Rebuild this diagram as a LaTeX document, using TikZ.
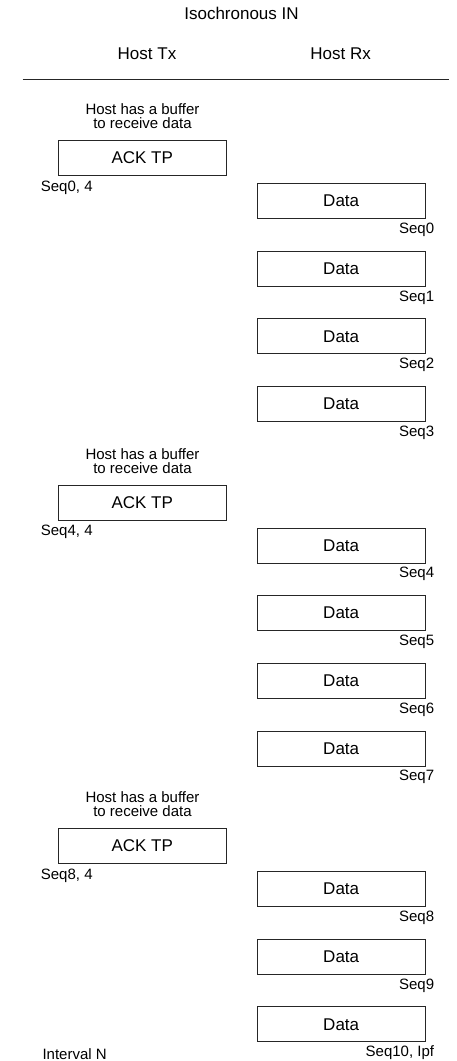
\documentclass[tikz,border=0pt]{standalone}
\usepackage{fontspec}
\setmainfont{Liberation Sans}
\begin{document}
\begin{tikzpicture}[x=1pt,y=-1pt,
  box/.style={draw=black!85, line width=1pt, minimum width=168pt, minimum height=35pt, inner sep=0pt, font=\fontsize{17}{20}\selectfont, anchor=north west},
  big/.style={font=\fontsize{17}{20}\selectfont, inner sep=0pt},
  small/.style={font=\fontsize{15}{18}\selectfont, inner sep=0pt},
  note/.style={font=\fontsize{15}{14}\selectfont, inner sep=0pt, align=center, anchor=south}]
\useasboundingbox (0,0) rectangle (456,1061);
\node[big, anchor=base] (title) at (241.5,19.3) {Isochronous IN};
\node[big, anchor=base] (tx) at (147,59.3) {Host Tx};
\node[big, anchor=base] (rx) at (340.7,59.3) {Host Rx};
\coordinate (l1) at (22.7,79);
\coordinate (l2) at (449,79);
\draw[line width=1pt, black!85] (l1) -- (l2);
% ACK groups
\foreach \k/\a/\s in {0/140/0, 1/484.5/4, 2/828/8}{
  \node[note] (buf\k) at (142.5,\a-11) {Host has a buffer\\to receive data};
  \node[box] (ack\k) at (57.7,\a) {ACK TP};
  \node[small, anchor=base west] (ackseq\k) at (40.7,\a+51) {Seq\s, 4};
}
% Data boxes
\foreach \n/\d in {0/183, 1/250.7, 2/318.3, 3/386, 4/527.5, 5/595.2, 6/662.8, 7/730.5, 8/871, 9/938.7}{
  \node[box] (data\n) at (256.7,\d) {Data};
  \node[small, anchor=base east] (seq\n) at (434.3,\d+50.3) {Seq\n};
}
\node[box] (data10) at (256.7,1006.3) {Data};
\node[small, anchor=base east] (seq10) at (434.3,1056.6) {Seq10, Ipf};
\node[small, anchor=base west] (interval) at (42.3,1059) {Interval N};
\end{tikzpicture}
\end{document}
